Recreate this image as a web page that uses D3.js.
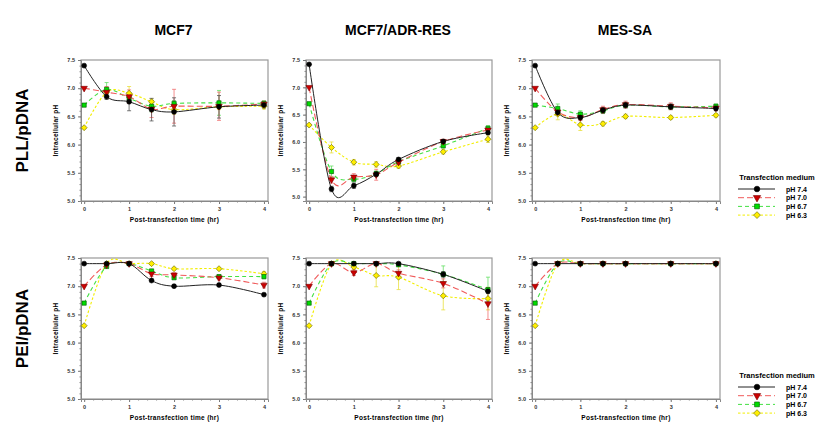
<!DOCTYPE html>
<html>
<head>
<meta charset="utf-8">
<script src="https://cdn.jsdelivr.net/npm/d3@7"></script>
<style>
  body { margin: 0; background: #fff; }
  svg { font-family: Arial, "Liberation Sans", sans-serif; }
</style>
</head>
<body>
<svg width="822" height="428"></svg>
<script>
// Time points (hr)
const times = [0, 0.5, 1, 1.5, 2, 3, 4];
const cellLines = ["MCF7", "MCF7/ADR-RES", "MES-SA"];
const vectors = ["PLL/pDNA", "PEI/pDNA"];
const mediums = ["pH 7.4", "pH 7.0", "pH 6.7", "pH 6.3"];
const xTicks = [0, 1, 2, 3, 4];
const yTicks = [5.0, 5.5, 6.0, 6.5, 7.0, 7.5];

// PLL/pDNA, MCF7
const pllMcf7_74 = [7.40, 6.85, 6.76, 6.62, 6.58, 6.67, 6.70];
const pllMcf7_70 = [7.00, 6.93, 6.85, 6.63, 6.68, 6.68, 6.72];
const pllMcf7_67 = [6.70, 6.98, 6.82, 6.68, 6.73, 6.74, 6.73];
const pllMcf7_63 = [6.30, 6.93, 6.91, 6.76, 6.62, 6.67, 6.68];
const pllMcf7_74e = [0, 0.05, 0.16, 0.2, 0.25, 0.2, 0.05];
const pllMcf7_70e = [0, 0.1, 0.12, 0.15, 0.3, 0.25, 0.05];
const pllMcf7_67e = [0, 0.12, 0.05, 0.1, 0.05, 0.22, 0.05];
const pllMcf7_63e = [0, 0.08, 0.12, 0.05, 0.08, 0.05, 0.05];

// PLL/pDNA, MCF7/ADR-RES
const pllAdr_74 = [7.42, 5.14, 5.20, 5.41, 5.68, 6.01, 6.17];
const pllAdr_70 = [7.00, 5.31, 5.36, 5.40, 5.63, 6.01, 6.22];
const pllAdr_67 = [6.70, 5.46, 5.32, 5.42, 5.64, 5.93, 6.25];
const pllAdr_63 = [6.31, 5.90, 5.63, 5.59, 5.56, 5.82, 6.05];
const pllAdr_74e = [0, 0.05, 0.05, 0.04, 0.03, 0.03, 0.03];
const pllAdr_70e = [0, 0.06, 0.06, 0.1, 0.04, 0.04, 0.04];
const pllAdr_67e = [0, 0.1, 0.05, 0.05, 0.04, 0.04, 0.05];
const pllAdr_63e = [0, 0.1, 0.05, 0.05, 0.04, 0.04, 0.06];

// PLL/pDNA, MES-SA
const pllMes_74 = [7.40, 6.57, 6.48, 6.61, 6.70, 6.67, 6.64];
const pllMes_70 = [7.00, 6.58, 6.48, 6.62, 6.71, 6.68, 6.65];
const pllMes_67 = [6.70, 6.64, 6.54, 6.60, 6.70, 6.67, 6.68];
const pllMes_63 = [6.30, 6.54, 6.35, 6.37, 6.50, 6.48, 6.52];
const pllMes_74e = [0, 0.05, 0.04, 0.05, 0.05, 0.05, 0.04];
const pllMes_70e = [0, 0.06, 0.05, 0.06, 0.06, 0.06, 0.04];
const pllMes_67e = [0, 0.08, 0.06, 0.05, 0.04, 0.04, 0.04];
const pllMes_63e = [0, 0.1, 0.1, 0.04, 0.04, 0.03, 0.03];

// PEI/pDNA, MCF7
const peiMcf7_74 = [7.40, 7.40, 7.40, 7.10, 7.00, 7.02, 6.85];
const peiMcf7_70 = [7.00, 7.38, 7.40, 7.22, 7.20, 7.15, 7.02];
const peiMcf7_67 = [6.70, 7.35, 7.40, 7.27, 7.15, 7.17, 7.17];
const peiMcf7_63 = [6.30, 7.40, 7.40, 7.40, 7.31, 7.31, 7.22];
const peiMcf7_74e = [0, 0, 0, 0.02, 0.02, 0.02, 0.02];
const peiMcf7_70e = [0, 0, 0, 0.05, 0.04, 0.04, 0.05];
const peiMcf7_67e = [0, 0, 0, 0.03, 0.03, 0.03, 0.04];
const peiMcf7_63e = [0, 0, 0, 0.02, 0.02, 0.02, 0.04];

// PEI/pDNA, MCF7/ADR-RES
const peiAdr_74 = [7.40, 7.40, 7.40, 7.40, 7.40, 7.21, 6.91];
const peiAdr_70 = [7.00, 7.40, 7.24, 7.40, 7.23, 7.05, 6.69];
const peiAdr_67 = [6.70, 7.40, 7.40, 7.40, 7.38, 7.21, 6.94];
const peiAdr_63 = [6.30, 7.40, 7.34, 7.19, 7.16, 6.83, 6.78];
const peiAdr_74e = [0, 0, 0, 0, 0.02, 0.05, 0.04];
const peiAdr_70e = [0, 0, 0.05, 0, 0.06, 0.08, 0.28];
const peiAdr_67e = [0, 0, 0.03, 0.02, 0.03, 0.15, 0.22];
const peiAdr_63e = [0, 0, 0.05, 0.2, 0.22, 0.25, 0.2];

// PEI/pDNA, MES-SA
const peiMes_74 = [7.40, 7.40, 7.40, 7.40, 7.40, 7.40, 7.40];
const peiMes_70 = [7.00, 7.40, 7.40, 7.40, 7.40, 7.40, 7.40];
const peiMes_67 = [6.70, 7.40, 7.40, 7.40, 7.40, 7.40, 7.40];
const peiMes_63 = [6.30, 7.40, 7.40, 7.40, 7.40, 7.40, 7.40];
const zeroErr = [0, 0, 0, 0, 0, 0, 0];

const panels = [
  [[pllMcf7_74, pllMcf7_70, pllMcf7_67, pllMcf7_63], [pllMcf7_74e, pllMcf7_70e, pllMcf7_67e, pllMcf7_63e]],
  [[pllAdr_74, pllAdr_70, pllAdr_67, pllAdr_63], [pllAdr_74e, pllAdr_70e, pllAdr_67e, pllAdr_63e]],
  [[pllMes_74, pllMes_70, pllMes_67, pllMes_63], [pllMes_74e, pllMes_70e, pllMes_67e, pllMes_63e]],
  [[peiMcf7_74, peiMcf7_70, peiMcf7_67, peiMcf7_63], [peiMcf7_74e, peiMcf7_70e, peiMcf7_67e, peiMcf7_63e]],
  [[peiAdr_74, peiAdr_70, peiAdr_67, peiAdr_63], [peiAdr_74e, peiAdr_70e, peiAdr_67e, peiAdr_63e]],
  [[peiMes_74, peiMes_70, peiMes_67, peiMes_63], [zeroErr, zeroErr, zeroErr, zeroErr]]
];

// Series styles
const styles = [
  { line: "#222", dash: null, fill: "#000", stroke: "#000", err: "#555", sym: d3.symbolCircle, size: 19 },
  { line: "#f05a5a", dash: "6,3", fill: "#cc0000", stroke: "#770000", err: "#f07070", sym: d3.symbolTriangle, size: 18, rot: 180 },
  { line: "#44e044", dash: "4,3", fill: "#00dd00", stroke: "#005500", err: "#66e066", sym: d3.symbolSquare, size: 18 },
  { line: "#f2ee00", dash: "2.5,2", fill: "#ffee00", stroke: "#666600", err: "#e8e040", sym: d3.symbolSquare, size: 18, rot: 45 }
];

const cols = [{ left: 81, right: 268 }, { left: 306, right: 492 }, { left: 532, right: 720 }];
const rows = [{ top: 60, bottom: 201 }, { top: 258, bottom: 399 }];

const svg = d3.select("svg");

// Column titles
cols.forEach((c, i) => {
  svg.append("text")
    .attr("x", (c.left + c.right) / 2 - 1)
    .attr("y", 35)
    .attr("text-anchor", "middle")
    .attr("font-size", 14)
    .attr("font-weight", "bold")
    .text(cellLines[i]);
});

// Row labels
rows.forEach((r, i) => {
  svg.append("text")
    .attr("transform", `translate(28, ${(r.top + r.bottom) / 2}) rotate(-90)`)
    .attr("text-anchor", "middle")
    .attr("font-size", 17)
    .attr("font-weight", "bold")
    .text(vectors[i]);
});

function drawPanel(ri, ci) {
  const c = cols[ci], r = rows[ri];
  const [series, errs] = panels[ri * 3 + ci];
  const yMin = (ri === 0 && ci === 1) ? 4.92 : 5.0;

  const x = d3.scaleLinear().domain([-0.07, 4.09]).range([c.left, c.right]);
  const y = d3.scaleLinear().domain([yMin, 7.5]).range([r.bottom, r.top]);

  const g = svg.append("g");
  const clipId = `clip-${ri}-${ci}`;
  g.append("clipPath").attr("id", clipId)
    .append("rect")
    .attr("x", c.left).attr("y", r.top)
    .attr("width", c.right - c.left).attr("height", r.bottom - r.top);

  // Frame
  g.append("rect")
    .attr("x", c.left).attr("y", r.top)
    .attr("width", c.right - c.left).attr("height", r.bottom - r.top)
    .attr("fill", "none")
    .attr("stroke", "#999")
    .attr("stroke-width", 1.2);

  // Y axis with minor ticks
  const yAxis = d3.axisLeft(y).tickValues(yTicks).tickFormat(d3.format(".1f")).tickSize(3).tickPadding(3);
  const ya = g.append("g").attr("transform", `translate(${c.left},0)`).call(yAxis);
  ya.select(".domain").attr("stroke", "#888");
  ya.selectAll(".tick line").attr("stroke", "#777");
  ya.selectAll("text").attr("font-size", 5.5).attr("font-weight", "bold").attr("fill", "#333");
  g.append("g").attr("transform", `translate(${c.left},0)`)
    .call(d3.axisLeft(y).tickValues(d3.range(50, 75).map(v => v / 10)).tickSize(1.5).tickFormat(""))
    .call(s => s.select(".domain").remove())
    .selectAll("line").attr("stroke", "#888");

  // X axis with minor ticks
  const xAxis = d3.axisBottom(x).tickValues(xTicks).tickFormat(d3.format("d")).tickSize(3).tickPadding(3);
  const xa = g.append("g").attr("transform", `translate(0,${r.bottom})`).call(xAxis);
  xa.select(".domain").attr("stroke", "#888");
  xa.selectAll(".tick line").attr("stroke", "#777");
  xa.selectAll("text").attr("font-size", 5.5).attr("font-weight", "bold").attr("fill", "#333");
  g.append("g").attr("transform", `translate(0,${r.bottom})`)
    .call(d3.axisBottom(x).tickValues(d3.range(0, 21).map(v => v / 5)).tickSize(1.5).tickFormat(""))
    .call(s => s.select(".domain").remove())
    .selectAll("line").attr("stroke", "#888");

  // Axis titles
  g.append("text")
    .attr("x", (c.left + c.right) / 2)
    .attr("y", r.bottom + 21)
    .attr("text-anchor", "middle")
    .attr("font-size", 6.5)
    .attr("font-weight", "bold")
    .attr("letter-spacing", 0.3)
    .text("Post-transfection time (hr)");
  g.append("text")
    .attr("transform", `translate(${c.left - 23},${(r.top + r.bottom) / 2}) rotate(-90)`)
    .attr("text-anchor", "middle")
    .attr("font-size", 6.5)
    .attr("font-weight", "bold")
    .attr("letter-spacing", 0.3)
    .text("Intracellular pH");

  const plot = g.append("g").attr("clip-path", `url(#${clipId})`);
  const line = d3.line()
    .x((d, i) => x(times[i]))
    .y(d => y(d))
    .curve(d3.curveCardinal.tension(0));

  // Draw back to front: yellow first, black last
  for (let s = 3; s >= 0; s--) {
    const st = styles[s];
    const vals = series[s], e = errs[s];
    // error bars
    const eb = plot.append("g").attr("stroke", st.err).attr("stroke-width", 0.8);
    vals.forEach((v, i) => {
      if (!e[i]) return;
      const xx = x(times[i]);
      eb.append("line").attr("x1", xx).attr("x2", xx).attr("y1", y(v - e[i])).attr("y2", y(v + e[i]));
      [v - e[i], v + e[i]].forEach(w => {
        eb.append("line").attr("x1", xx - 2).attr("x2", xx + 2).attr("y1", y(w)).attr("y2", y(w));
      });
    });
    plot.append("path")
      .datum(vals)
      .attr("d", line)
      .attr("fill", "none")
      .attr("stroke", st.line)
      .attr("stroke-width", s === 0 ? 1 : 1.1)
      .attr("stroke-dasharray", st.dash);
  }
  for (let s = 3; s >= 0; s--) {
    const st = styles[s];
    g.append("g").selectAll("path")
      .data(series[s])
      .join("path")
      .attr("transform", (d, i) => `translate(${x(times[i])},${y(d)})${st.rot ? ` rotate(${st.rot})` : ""}`)
      .attr("d", d3.symbol(st.sym, st.size))
      .attr("fill", st.fill)
      .attr("stroke", st.stroke)
      .attr("stroke-width", 0.6);
  }
}

for (let ri = 0; ri < 2; ri++) {
  for (let ci = 0; ci < 3; ci++) drawPanel(ri, ci);
}

// Legends
const legendTops = [178, 376];
legendTops.forEach(top => {
  const lg = svg.append("g");
  lg.append("text")
    .attr("x", 777).attr("y", top + 2)
    .attr("text-anchor", "middle")
    .attr("font-size", 7.5)
    .attr("font-weight", "bold")
    .text("Transfection medium");
  mediums.forEach((m, i) => {
    const st = styles[i];
    const yy = top + 11 + i * 8.7;
    lg.append("line")
      .attr("x1", 738).attr("x2", 775).attr("y1", yy).attr("y2", yy)
      .attr("stroke", st.line).attr("stroke-width", 1)
      .attr("stroke-dasharray", st.dash);
    lg.append("path")
      .attr("transform", `translate(757,${yy})${st.rot ? ` rotate(${st.rot})` : ""}`)
      .attr("d", d3.symbol(st.sym, st.size * 1.3))
      .attr("fill", st.fill)
      .attr("stroke", st.stroke)
      .attr("stroke-width", 0.6);
    lg.append("text")
      .attr("x", 786).attr("y", yy + 2.5)
      .attr("font-size", 7)
      .attr("font-weight", "bold")
      .text(m);
  });
});
</script>
</body>
</html>
